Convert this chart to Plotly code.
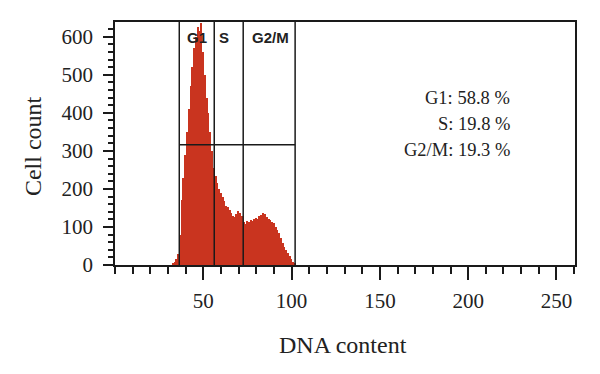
import plotly.graph_objects as go

# ---- data ----
dna_bins = list(range(33, 103))
cell_counts = [3, 8, 15, 30, 80, 170, 230, 290, 350, 410,
               470, 520, 570, 600, 625, 615, 637, 560, 500, 440,
               400, 350, 300, 255, 235, 215, 200, 190, 178, 168,
               155, 152, 145, 138, 130, 127, 135, 142, 138, 128,
               112, 108, 115, 112, 118, 116, 120, 124, 122, 128,
               132, 136, 134, 126, 120, 118, 114, 110, 100, 92,
               85, 72, 58, 48, 40, 32, 24, 16, 8, 3]
gate_edges = [36.4, 56.2, 72.6, 102]
gate_level = 316
gate_names = ["G1", "S", "G2/M"]
gate_label_x = [46.6, 61.7, 88]
phase_labels = ["G1: 58.8 %", "S: 19.8 %", "G2/M: 19.3 %"]
x_ticks = [50, 100, 150, 200, 250]
y_ticks = [0, 100, 200, 300, 400, 500, 600]

serif = "Liberation Serif, Times New Roman, serif"
ink = "#1a1a1a"

fig = go.Figure()
fig.add_trace(go.Bar(x=dna_bins, y=cell_counts, width=1,
                     marker=dict(color="#c9341f", line=dict(width=0)),
                     showlegend=False))

line_style = dict(color=ink, width=1.5)
for xe in gate_edges:
    fig.add_shape(type="line", x0=xe, x1=xe, y0=0, y1=1, xref="x", yref="paper", line=line_style)
fig.add_shape(type="line", x0=gate_edges[0], x1=gate_edges[-1], y0=gate_level, y1=gate_level,
              xref="x", yref="y", line=line_style)

for name, gx in zip(gate_names, gate_label_x):
    fig.add_annotation(x=gx, y=597, xref="x", yref="y", text="<b>%s</b>" % name, showarrow=False,
                       font=dict(family="Liberation Sans, Arial, sans-serif", size=15, color="#222"))

for i, t in enumerate(phase_labels):
    fig.add_annotation(x=0.863, y=[0.687, 0.580, 0.473][i], xref="paper", yref="paper", text=t,
                       showarrow=False, xanchor="right", yanchor="middle",
                       font=dict(family=serif, size=18.5, color="#222"))

# axis titles
fig.add_annotation(x=0.4946, y=-0.329, xref="paper", yref="paper", text="DNA content",
                   showarrow=False, xanchor="center", yanchor="middle",
                   font=dict(family=serif, size=24, color="#222"))
fig.add_annotation(x=-0.178, y=0.49, xref="paper", yref="paper", text="Cell count",
                   showarrow=False, xanchor="center", yanchor="middle", textangle=-90,
                   font=dict(family=serif, size=24, color="#222"))

fig.update_layout(
    width=600, height=374,
    margin=dict(l=107, r=33, t=14, b=117),
    paper_bgcolor="white", plot_bgcolor="white",
    bargap=0,
    font=dict(family=serif, size=21, color="#222"),
)
fig.update_xaxes(range=[0, 260.5], tickvals=x_ticks, ticks="outside", ticklen=13, tickwidth=1.5,
                 tickcolor=ink, showline=True, linecolor=ink, linewidth=1.5, mirror=True,
                 showgrid=False, zeroline=False, ticklabelstandoff=3,
                 minor=dict(dtick=10, tick0=0, ticks="outside", ticklen=7, tickwidth=1.5, tickcolor=ink, showgrid=False))
fig.update_yaxes(range=[0, 639], tickvals=y_ticks, ticks="outside", ticklen=10, tickwidth=1.5,
                 tickcolor=ink, showline=True, linecolor=ink, linewidth=1.5, mirror=True,
                 showgrid=False, zeroline=False, ticklabelstandoff=6,
                 minor=dict(dtick=20, tick0=0, ticks="outside", ticklen=5, tickwidth=1.5, tickcolor=ink, showgrid=False))

fig.write_html("out.html")
